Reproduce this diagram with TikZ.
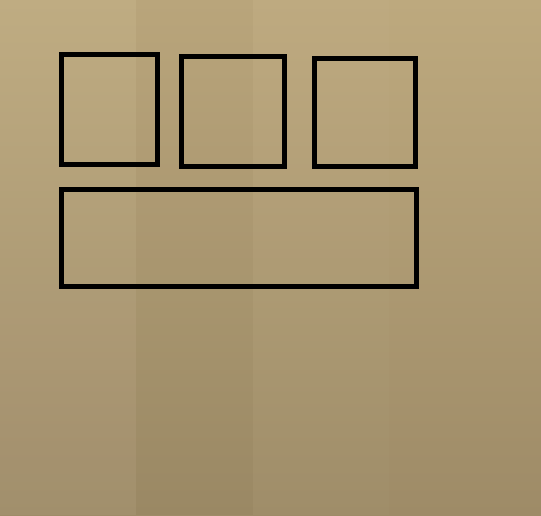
\documentclass[tikz,border=0pt]{standalone}
\begin{document}
\begin{tikzpicture}[x=1pt,y=-1pt,
  frame/.style={draw=black,line width=5pt,rectangle,inner sep=0pt,outer sep=0pt}]
\definecolor{bgtop}{RGB}{189,169,126}
\definecolor{bgbot}{RGB}{158,139,103}
\useasboundingbox (0,0) rectangle (541,515);
\shade[top color=bgtop,bottom color=bgbot] (0,0) rectangle (541,515);
\fill[white,opacity=0.035] (0,0) rectangle (136,515);
\fill[black,opacity=0.02] (136,0) rectangle (253,515);
\fill[white,opacity=0.02] (253,0) rectangle (389,515);
\node[frame,minimum width=96pt,minimum height=110pt] (b1) at (109.5,109.8) {};
\node[frame,minimum width=102.7pt,minimum height=109.7pt] (b2) at (232.85,111.35) {};
\node[frame,minimum width=101pt,minimum height=107.7pt] (b3) at (365,112.35) {};
\node[frame,minimum width=355pt,minimum height=96.7pt] (b4) at (239,237.85) {};
\end{tikzpicture}
\end{document}
